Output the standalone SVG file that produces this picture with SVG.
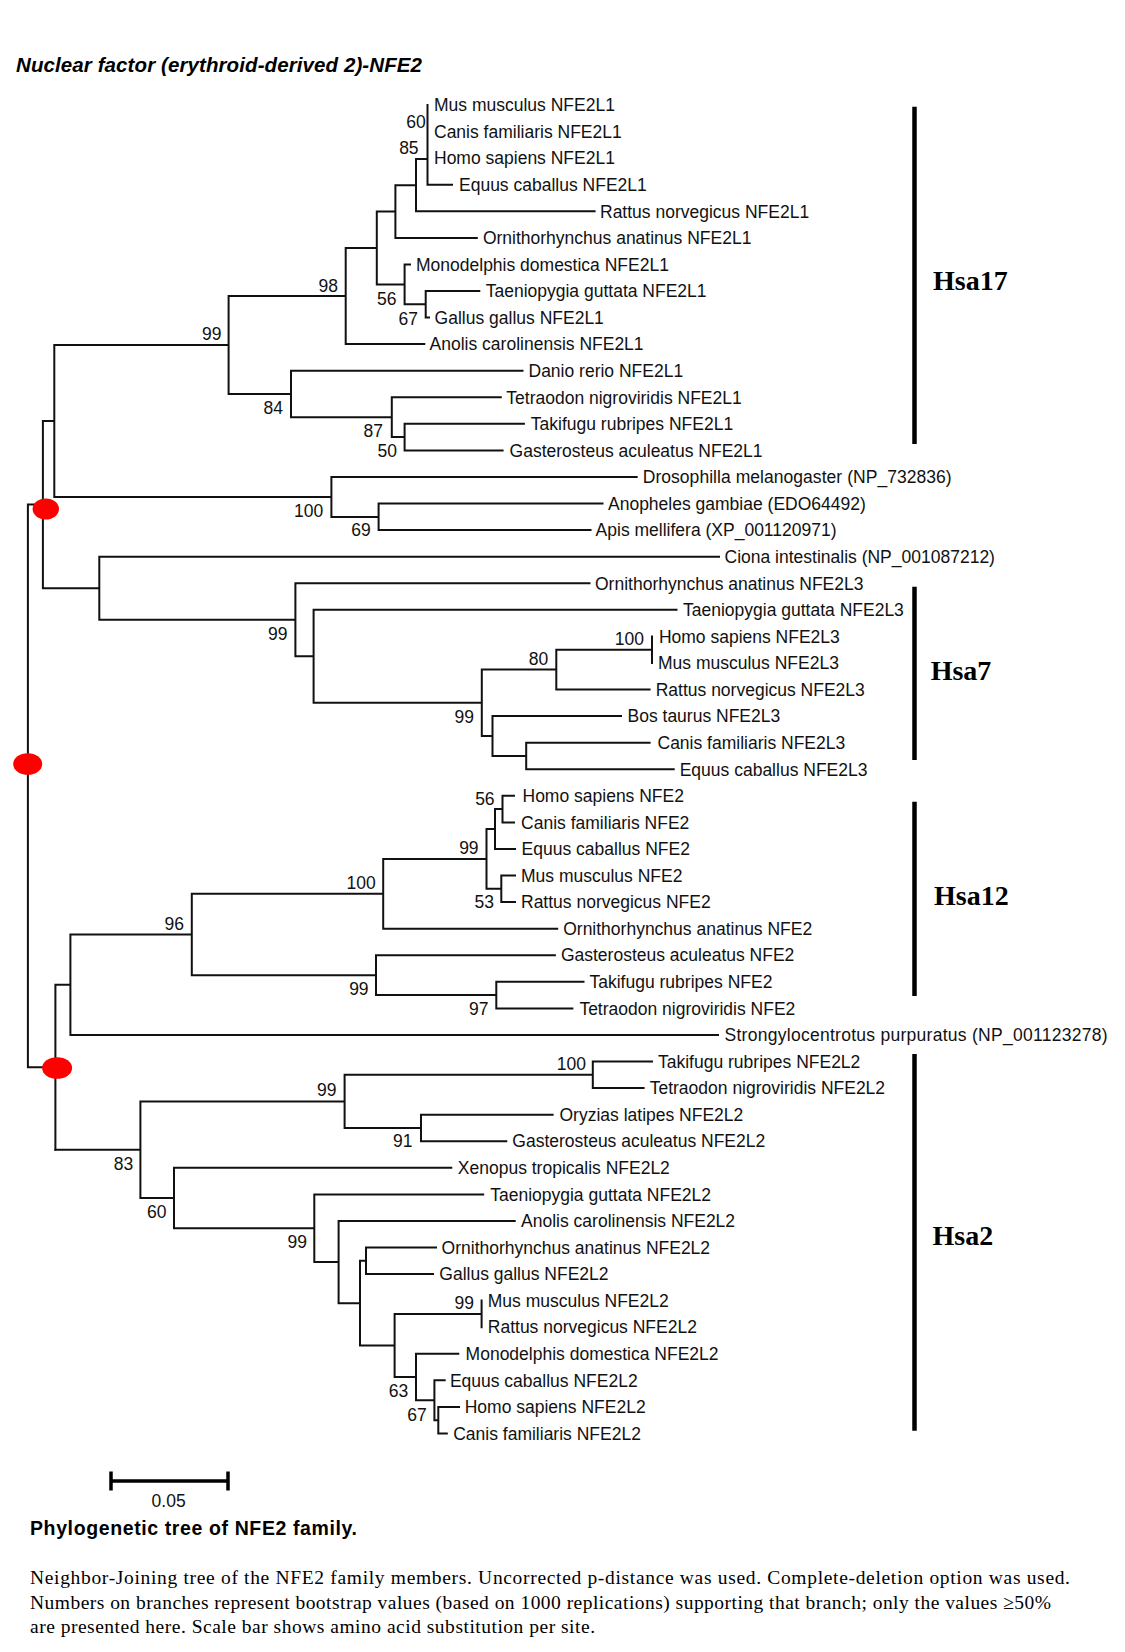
<svg xmlns="http://www.w3.org/2000/svg" width="1125" height="1652" viewBox="0 0 1125 1652">
<style>
.br{fill:none;stroke:#111;stroke-width:2;stroke-linecap:square}
.lab{font-family:"Liberation Sans",Arial,sans-serif;font-size:17.5px;fill:#111}
.bs{font-family:"Liberation Sans",Arial,sans-serif;font-size:17.5px;fill:#111;text-anchor:end}
.hsa{font-family:"Liberation Serif","Times New Roman",serif;font-size:28px;font-weight:bold;fill:#000}
.bar{stroke:#000;stroke-width:4.5}
.dot{fill:#ff0000}
.cap{font-family:"Liberation Serif","Times New Roman",serif;font-size:19.5px;fill:#000}
</style>
<rect width="1125" height="1652" fill="#fff"/>
<text x="16" y="71.5" font-family="Liberation Sans, Arial, sans-serif" font-size="20.5" font-weight="bold" font-style="italic" fill="#000" textLength="406">Nuclear factor (erythroid-derived 2)-NFE2</text>

<g id="connectors">
<path class="br" d="M427.5 105V184.7M427.5 184.7H452M416 159H427.5M416 159V211.3M416 211.3H594.6M395.4 185.2H416M395.4 185.2V237.9M395.4 237.9H476.8M376.8 211.5H395.4M376.8 211.5V284.4M376.8 284.4H404.6M404.6 264.4V304.3M404.6 264.4H410M404.6 304.3H425.7M425.7 291V317.6M425.7 291H479.3M425.7 317.6H429M345.7 248H376.8M345.7 248V344.1M345.7 344.1H424.3M228.6 296H345.7M228.6 296V394M228.6 394H291M291 370.7V417.2M291 370.7H522.5M291 417.2H391.8M391.8 397.3V437.1M391.8 397.3H500.8M391.8 437.1H404.6M404.6 423.8V450.4M404.6 423.8H523.9M404.6 450.4H502.6M54.3 345H228.6M54.3 345V497M54.3 497H331.4M331.4 477V516.9M331.4 477H636.7M331.4 516.9H378.6M378.6 503.6V530.1M378.6 503.6H602.5M378.6 530.1H590.5M42.9 421H54.3M42.9 421V588.3M42.9 588.3H99.3M99.3 556.7V619.8M99.3 556.7H719M99.3 619.8H295.4M295.4 583.3V656.3M295.4 583.3H589.5M295.4 656.3H313.6M313.6 609.8V702.8M313.6 609.8H676.5M313.6 702.8H481.8M481.8 669.6V736M481.8 669.6H556.3M556.3 649.7V689.5M556.3 649.7H652M652 636.4V663M556.3 689.5H649.6M481.8 736H492.5M492.5 716.1V756M492.5 716.1H621M492.5 756H526.2M526.2 742.7V769.3M526.2 742.7H649.6M526.2 769.3H673.7"/>
<path class="br" d="M27.9 504.6H42.9M27.9 504.6V1067.2M27.9 1067.2H55.4M55.4 984.7V1149.7M55.4 984.7H70.4M70.4 934.5V1034.9M70.4 1034.9H718M70.4 934.5H191.8M191.8 893.8V975.2M191.8 893.8H383.2M383.2 858.9V928.7M383.2 928.7H557.2M383.2 858.9H486.5M486.5 829V888.8M486.5 829H495M495 809.1V849M495 849H515M495 809.1H502.5M502.5 795.8V822.4M502.5 795.8H514M502.5 822.4H514M486.5 888.8H501.3M501.3 875.5V902.1M501.3 875.5H515M501.3 902.1H515M191.8 975.2H376M376 955.2V995.1M376 955.2H554.9M376 995.1H496.3M496.3 981.8V1008.4M496.3 981.8H583.5M496.3 1008.4H572.4"/>
<path class="br" d="M55.4 1149.7H140.4M140.4 1101.4V1198M140.4 1101.4H344.6M344.6 1074.8V1128M344.6 1074.8H592.8M592.8 1061.5V1088.1M592.8 1061.5H652M592.8 1088.1H643.6M344.6 1128H421M421 1114.7V1141.2M421 1114.7H552.6M421 1141.2H506.3M140.4 1198H174M174 1167.8V1228.2M174 1167.8H451.3M174 1228.2H314.3M314.3 1194.4V1262M314.3 1194.4H483.2M314.3 1262H338.6M338.6 1220.9V1303.2M338.6 1220.9H514.7M338.6 1303.2H360M360 1260.8V1345.5M360 1260.8H366M366 1247.5V1274.1M366 1247.5H436M366 1274.1H433M360 1345.5H394.6M394.6 1313.9V1377M394.6 1313.9H481.6M481.6 1300.6V1327.2M394.6 1377H416M416 1353.8V1400.3M416 1353.8H458.3M416 1400.3H434.4M434.4 1380.3V1420.2M434.4 1380.3H444.7M434.4 1420.2H438.3M438.3 1406.9V1433.5M438.3 1406.9H459M438.3 1433.5H446.8"/>
</g>

<g id="bootstrap">
<text class="bs" x="425.7" y="128">60</text>
<text class="bs" x="418.6" y="154">85</text>
<text class="bs" x="338" y="292">98</text>
<text class="bs" x="396.4" y="304.5">56</text>
<text class="bs" x="418" y="324.5">67</text>
<text class="bs" x="221.4" y="339.5">99</text>
<text class="bs" x="283" y="414">84</text>
<text class="bs" x="383" y="437">87</text>
<text class="bs" x="397" y="457">50</text>
<text class="bs" x="323.2" y="517">100</text>
<text class="bs" x="370.7" y="536">69</text>
<text class="bs" x="287.5" y="639.5">99</text>
<text class="bs" x="644" y="645">100</text>
<text class="bs" x="548.2" y="664.5">80</text>
<text class="bs" x="474" y="723">99</text>
<text class="bs" x="494.6" y="804.5">56</text>
<text class="bs" x="478.6" y="854">99</text>
<text class="bs" x="494" y="908">53</text>
<text class="bs" x="375.7" y="889">100</text>
<text class="bs" x="184" y="929.5">96</text>
<text class="bs" x="368.6" y="994.5">99</text>
<text class="bs" x="488.5" y="1014.5">97</text>
<text class="bs" x="585.9" y="1070">100</text>
<text class="bs" x="336.4" y="1096">99</text>
<text class="bs" x="412.5" y="1147">91</text>
<text class="bs" x="133.2" y="1169.5">83</text>
<text class="bs" x="166.4" y="1218">60</text>
<text class="bs" x="307" y="1248">99</text>
<text class="bs" x="474" y="1308.5">99</text>
<text class="bs" x="408.2" y="1397">63</text>
<text class="bs" x="426.8" y="1421">67</text>
</g>

<g id="root-markers">
<ellipse class="dot" cx="45.8" cy="509" rx="13.2" ry="10.5"/>
<ellipse class="dot" cx="27.7" cy="764" rx="14.5" ry="10.8"/>
<ellipse class="dot" cx="57.1" cy="1068" rx="15" ry="10.8"/>
</g>

<g id="leaves">
<g id="n1"><text class="lab" x="434" y="111.2">Mus musculus NFE2L1</text></g>
<g id="n2"><text class="lab" x="434" y="137.8">Canis familiaris NFE2L1</text></g>
<g id="n3"><text class="lab" x="434" y="164.3">Homo sapiens NFE2L1</text></g>
<g id="n4"><text class="lab" x="459" y="190.9">Equus caballus NFE2L1</text></g>
<g id="n5"><text class="lab" x="600" y="217.5">Rattus norvegicus NFE2L1</text></g>
<g id="n6"><text class="lab" x="482.9" y="244.1">Ornithorhynchus anatinus NFE2L1</text></g>
<g id="n7"><text class="lab" x="416" y="270.6">Monodelphis domestica NFE2L1</text></g>
<g id="n8"><text class="lab" x="485.7" y="297.2">Taeniopygia guttata NFE2L1</text></g>
<g id="n9"><text class="lab" x="434.6" y="323.8">Gallus gallus NFE2L1</text></g>
<g id="n10"><text class="lab" x="429.6" y="350.3">Anolis carolinensis NFE2L1</text></g>
<g id="n11"><text class="lab" x="528.5" y="376.9">Danio rerio NFE2L1</text></g>
<g id="n12"><text class="lab" x="506.3" y="403.5">Tetraodon nigroviridis NFE2L1</text></g>
<g id="n13"><text class="lab" x="530.8" y="430">Takifugu rubripes NFE2L1</text></g>
<g id="n14"><text class="lab" x="509.6" y="456.6">Gasterosteus aculeatus NFE2L1</text></g>
<g id="n15"><text class="lab" x="642.7" y="483.2" textLength="309">Drosophilla melanogaster (NP_732836)</text></g>
<g id="n16"><text class="lab" x="608" y="509.8">Anopheles gambiae (EDO64492)</text></g>
<g id="n17"><text class="lab" x="595.6" y="536.3">Apis mellifera (XP_001120971)</text></g>
<g id="n18"><text class="lab" x="724.5" y="562.9">Ciona intestinalis (NP_001087212)</text></g>
<g id="n19"><text class="lab" x="595" y="589.5">Ornithorhynchus anatinus NFE2L3</text></g>
<g id="n20"><text class="lab" x="683" y="616">Taeniopygia guttata NFE2L3</text></g>
<g id="n21"><text class="lab" x="658.9" y="642.6">Homo sapiens NFE2L3</text></g>
<g id="n22"><text class="lab" x="658" y="669.2">Mus musculus NFE2L3</text></g>
<g id="n23"><text class="lab" x="655.7" y="695.7">Rattus norvegicus NFE2L3</text></g>
<g id="n24"><text class="lab" x="627.5" y="722.3">Bos taurus NFE2L3</text></g>
<g id="n25"><text class="lab" x="657.5" y="748.9">Canis familiaris NFE2L3</text></g>
<g id="n26"><text class="lab" x="679.7" y="775.5">Equus caballus NFE2L3</text></g>
<g id="n27"><text class="lab" x="522.5" y="802">Homo sapiens NFE2</text></g>
<g id="n28"><text class="lab" x="521.1" y="828.6">Canis familiaris NFE2</text></g>
<g id="n29"><text class="lab" x="521.6" y="855.2">Equus caballus NFE2</text></g>
<g id="n30"><text class="lab" x="521" y="881.7">Mus musculus NFE2</text></g>
<g id="n31"><text class="lab" x="521" y="908.3">Rattus norvegicus NFE2</text></g>
<g id="n32"><text class="lab" x="563.2" y="934.9">Ornithorhynchus anatinus NFE2</text></g>
<g id="n33"><text class="lab" x="560.9" y="961.4">Gasterosteus aculeatus NFE2</text></g>
<g id="n34"><text class="lab" x="589.5" y="988">Takifugu rubripes NFE2</text></g>
<g id="n35"><text class="lab" x="579.4" y="1014.6">Tetraodon nigroviridis NFE2</text></g>
<g id="n36"><text class="lab" x="724.5" y="1041.1" textLength="383">Strongylocentrotus purpuratus (NP_001123278)</text></g>
<g id="n37"><text class="lab" x="658" y="1067.7">Takifugu rubripes NFE2L2</text></g>
<g id="n38"><text class="lab" x="649.7" y="1094.3">Tetraodon nigroviridis NFE2L2</text></g>
<g id="n39"><text class="lab" x="559.5" y="1120.9">Oryzias latipes NFE2L2</text></g>
<g id="n40"><text class="lab" x="512.3" y="1147.4">Gasterosteus aculeatus NFE2L2</text></g>
<g id="n41"><text class="lab" x="457.8" y="1174">Xenopus tropicalis NFE2L2</text></g>
<g id="n42"><text class="lab" x="490.2" y="1200.6">Taeniopygia guttata NFE2L2</text></g>
<g id="n43"><text class="lab" x="521.1" y="1227.1">Anolis carolinensis NFE2L2</text></g>
<g id="n44"><text class="lab" x="441.6" y="1253.7">Ornithorhynchus anatinus NFE2L2</text></g>
<g id="n45"><text class="lab" x="439.3" y="1280.3">Gallus gallus NFE2L2</text></g>
<g id="n46"><text class="lab" x="487.8" y="1306.8">Mus musculus NFE2L2</text></g>
<g id="n47"><text class="lab" x="487.8" y="1333.4">Rattus norvegicus NFE2L2</text></g>
<g id="n48"><text class="lab" x="465.6" y="1360">Monodelphis domestica NFE2L2</text></g>
<g id="n49"><text class="lab" x="449.9" y="1386.5">Equus caballus NFE2L2</text></g>
<g id="n50"><text class="lab" x="464.7" y="1413.1">Homo sapiens NFE2L2</text></g>
<g id="n51"><text class="lab" x="453.2" y="1439.7">Canis familiaris NFE2L2</text></g>
</g>

<g id="chromosome-groups">
<g id="hsa17"><line class="bar" x1="914.5" y1="106.7" x2="914.5" y2="444"/><text class="hsa" x="933" y="289.5">Hsa17</text></g>
<g id="hsa7"><line class="bar" x1="914.5" y1="586.7" x2="914.5" y2="760"/><text class="hsa" x="930.7" y="679.5">Hsa7</text></g>
<g id="hsa12"><line class="bar" x1="914.5" y1="801.7" x2="914.5" y2="996"/><text class="hsa" x="934" y="904.5">Hsa12</text></g>
<g id="hsa2"><line class="bar" x1="914.5" y1="1054" x2="914.5" y2="1430.7"/><text class="hsa" x="932.6" y="1244.5">Hsa2</text></g>
</g>

<g id="scale-bar">
<path d="M111 1481H228M111 1471.5V1490.5M228 1471.5V1490.5" fill="none" stroke="#000" stroke-width="3.5"/>
<text x="168.6" y="1506.5" font-family="Liberation Sans, Arial, sans-serif" font-size="17.5" fill="#111" text-anchor="middle">0.05</text>
</g>

<g id="caption">
<text x="30" y="1535" font-family="Liberation Sans, Arial, sans-serif" font-size="19.5" font-weight="bold" fill="#000" textLength="327">Phylogenetic tree of NFE2 family.</text>
<text class="cap" x="30" y="1584" textLength="1040">Neighbor-Joining tree of the NFE2 family members. Uncorrected p-distance was used. Complete-deletion option was used.</text>
<text class="cap" x="30" y="1609" textLength="1021">Numbers on branches represent bootstrap values (based on 1000 replications) supporting that branch; only the values ≥50%</text>
<text class="cap" x="30" y="1633" textLength="565">are presented here. Scale bar shows amino acid substitution per site.</text>
</g>
</svg>
